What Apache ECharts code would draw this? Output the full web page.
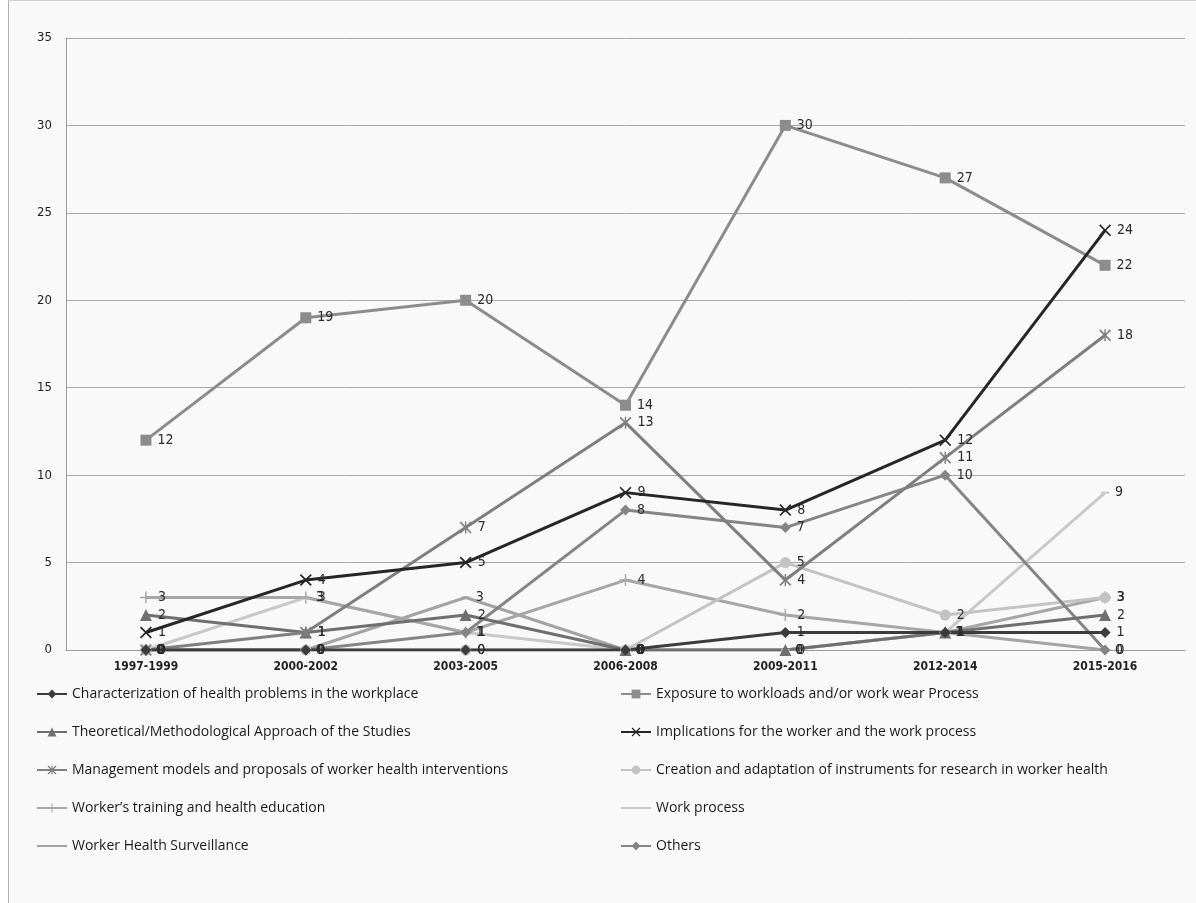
<!DOCTYPE html>
<html>
<head>
<meta charset="utf-8">
<script src="https://cdn.jsdelivr.net/npm/echarts@6/dist/echarts.min.js"></script>
<style>
html,body{margin:0;padding:0;background:#fff;}
#chart{position:absolute;left:8px;top:0;width:1188px;height:903px;background:#f9f9f9;border-left:1px solid #b0b0b0;border-top:1px solid #d0d0d0;box-sizing:border-box;}
</style>
</head>
<body>
<div id="chart"></div>
<script>
var categories = ['1997-1999','2000-2002','2003-2005','2006-2008','2009-2011','2012-2014','2015-2016'];
var characterization = [0,0,0,0,1,1,1];
var exposure = [12,19,20,14,30,27,22];
var theoretical = [2,1,2,0,0,1,2];
var implications = [1,4,5,9,8,12,24];
var management = [0,1,7,13,4,11,18];
var creation = [0,0,0,0,5,2,3];
var training = [3,3,1,4,2,1,3];
var workProcess = [0,3,1,0,0,1,9];
var surveillance = [0,0,3,0,0,1,0];
var others = [0,0,1,8,7,10,0];
var yTicks = {min:0, max:35, interval:5};

var names = {
  characterization:'Characterization of health problems in the workplace',
  exposure:'Exposure to workloads and/or work wear Process',
  theoretical:'Theoretical/Methodological Approach of the Studies',
  implications:'Implications for the worker and the work process',
  management:'Management models and proposals of worker health interventions',
  creation:'Creation and adaptation of instruments for research in worker health',
  training:'Worker\u2019s training and health education',
  workProcess:'Work process',
  surveillance:'Worker Health Surveillance',
  others:'Others'
};

var X_SYM = 'path://M1,0 L5,4 L9,0 L10,1 L6,5 L10,9 L9,10 L5,6 L1,10 L0,9 L4,5 L0,1 Z';
var PLUS_SYM = 'path://M4.4,0H5.6V4.4H10V5.6H5.6V10H4.4V5.6H0V4.4H4.4Z';
var AST_SYM = 'path://M1,0 L5,4 L9,0 L10,1 L6,5 L10,9 L9,10 L5,6 L1,10 L0,9 L4,5 L0,1 Z M4.4,0H5.6V10H4.4Z';
var DASH_SYM = 'path://M0,0H10V2H0Z';

function mk(key, data, color, symbol, size){
  return {
    name: names[key], type:'line', data:data,
    symbol: symbol, symbolSize: size, showSymbol: true,
    lineStyle:{color:color, width:3},
    itemStyle:{color:color},
    label:{show:true, position:'right', distance:6, color:'#2a2a2a', fontSize:14, fontFamily:'DejaVu Sans Condensed, Liberation Sans, sans-serif'},
    emphasis:{disabled:true},
    animation:false
  };
}

var series = [
  mk('surveillance', surveillance, '#a3a3a3', DASH_SYM, [8,2]),
  mk('workProcess', workProcess, '#c9c9c9', DASH_SYM, [8,2]),
  mk('training', training, '#a6a6a6', PLUS_SYM, 12),
  mk('creation', creation, '#c3c3c3', 'circle', 11),
  mk('others', others, '#858585', 'diamond', 11),
  mk('theoretical', theoretical, '#6f6f6f', 'triangle', 12),
  mk('management', management, '#7f7f7f', AST_SYM, 12),
  mk('characterization', characterization, '#3c3c3c', 'diamond', 11),
  mk('exposure', exposure, '#8c8c8c', 'rect', 11),
  mk('implications', implications, '#262626', X_SYM, 12)
];

var legendText = {color:'#1a1a1a', fontSize:14, fontFamily:'Liberation Sans Narrow, Open Sans, sans-serif'};
var chart = echarts.init(document.getElementById('chart'));
chart.setOption({
  backgroundColor:'#f9f9f9',
  animation:false,
  grid:{left:57, right:11, top:37, bottom:253},
  xAxis:{type:'category', data:categories, boundaryGap:true,
    axisLine:{lineStyle:{color:'#9a9a9a', width:1}},
    axisTick:{show:false},
    axisLabel:{color:'#222', fontSize:12, fontWeight:'bold', margin:11, fontFamily:'DejaVu Sans Condensed, sans-serif'}},
  yAxis:{type:'value', min:yTicks.min, max:yTicks.max, interval:yTicks.interval,
    axisLine:{show:true, lineStyle:{color:'#9a9a9a'}},
    axisTick:{show:false},
    axisLabel:{color:'#222', fontSize:13, margin:14, fontFamily:'DejaVu Sans Condensed, sans-serif'},
    splitLine:{lineStyle:{color:'#a8a8a8', width:1}}},
  legend:[
    {orient:'vertical', left:22, top:681, itemGap:24, itemWidth:30, itemHeight:11, textStyle:legendText,
     data:[names.characterization, names.theoretical, names.management, names.training,
           {name:names.surveillance, itemStyle:{opacity:0}}]},
    {orient:'vertical', left:606, top:681, itemGap:24, itemWidth:30, itemHeight:11, textStyle:legendText,
     data:[names.exposure, names.implications, names.creation,
           {name:names.workProcess, itemStyle:{opacity:0}}, names.others]}
  ],
  series: series
});
</script>
</body>
</html>
